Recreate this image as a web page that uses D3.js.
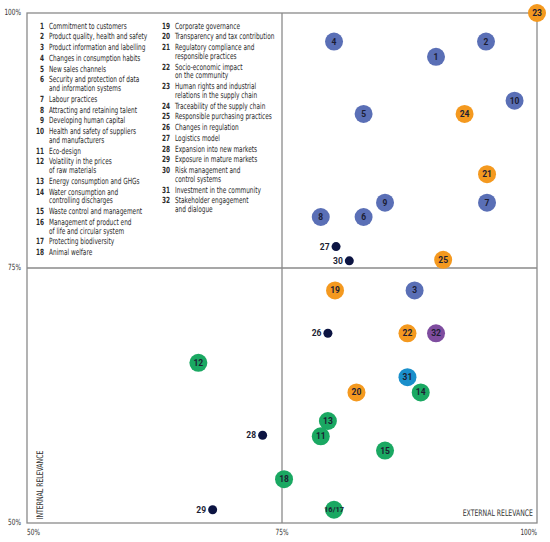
<!DOCTYPE html>
<html>
<head>
<meta charset="utf-8">
<script src="https://cdn.jsdelivr.net/npm/d3@7"></script>
<style>
  body { margin: 0; background: #fff; }
  svg { display: block; }
</style>
</head>
<body>
<div id="chart"></div>
<script>
// legend entries (| marks a line break)
const legendNames = [
  'Commitment to customers', 'Product quality, health and safety', 'Product information and labelling',
  'Changes in consumption habits', 'New sales channels', 'Security and protection of data|and information systems',
  'Labour practices', 'Attracting and retaining talent', 'Developing human capital',
  'Health and safety of suppliers|and manufacturers', 'Eco-design', 'Volatility in the prices|of raw materials',
  'Energy consumption and GHGs', 'Water consumption and|controlling discharges', 'Waste control and management',
  'Management of product end|of life and circular system', 'Protecting biodiversity', 'Animal welfare',
  'Corporate governance', 'Transparency and tax contribution', 'Regulatory compliance and|responsible practices',
  'Socio-economic impact|on the community', 'Human rights and industrial|relations in the supply chain',
  'Traceability of the supply chain', 'Responsible purchasing practices', 'Changes in regulation',
  'Logistics model', 'Expansion into new markets', 'Exposure in mature markets',
  'Risk management and|control systems', 'Investment in the community', 'Stakeholder engagement|and dialogue'
];

// plotted points
const pointLabels = ['1', '2', '3', '4', '5', '6', '7', '8', '9', '10',
  '11', '12', '13', '14', '15', '16/17', '18',
  '19', '20', '21', '22', '23', '24', '25',
  '26', '27', '28', '29', '30', '31', '32'];
const externalRel = [90.1, 95.0, 88.0, 80.1, 83.0, 83.0, 95.1, 78.8, 85.1, 97.8,
  78.8, 66.8, 79.5, 88.6, 85.1, 80.1, 75.2,
  80.2, 82.3, 95.1, 87.3, 100, 92.9, 90.8,
  79.5, 80.3, 73.1, 68.2, 81.6, 87.3, 90.1];
const internalRel = [95.7, 97.2, 72.8, 97.2, 90.1, 80.0, 81.4, 80.0, 81.4, 91.4,
  58.5, 65.7, 60.0, 62.8, 57.1, 51.3, 54.3,
  72.8, 62.8, 84.2, 68.6, 100, 90.1, 75.8,
  68.6, 77.1, 58.6, 51.3, 75.7, 64.3, 68.6];
const pointGroups = ['social', 'social', 'social', 'social', 'social', 'social', 'social', 'social', 'social', 'social',
  'env', 'env', 'env', 'env', 'env', 'env', 'env',
  'gov', 'gov', 'gov', 'gov', 'gov', 'gov', 'gov',
  'risk', 'risk', 'risk', 'risk', 'risk', 'community', 'stake'];

const axisTicks = [50, 75, 100];

var width = 550, height = 542;
var color = d3.scaleOrdinal()
  .domain(['social', 'env', 'gov', 'risk', 'community', 'stake'])
  .range(['#5a6fb6', '#1aa862', '#f4991f', '#0c1442', '#1a8fcb', '#7e4c9f']);

var x = d3.scaleLinear().domain([50, 100]).range([27, 537]);
var y = d3.scaleLinear().domain([50, 100]).range([523, 13]);

var svg = d3.select('#chart')
  .append('svg')
  .attr('width', width)
  .attr('height', height);

// no narrow font installed, so squeeze the text horizontally
var narrow = 'DejaVu Sans Condensed, sans-serif';
var squeeze = 0.76;

function narrowText(parent, tx, ty, str, extra) {
  return parent.append('text')
    .attr('transform', 'translate(' + tx + ',' + ty + ') ' + (extra || '') + ' scale(' + squeeze + ',1)')
    .text(str);
}

// frame and quadrant lines
var grid = svg.append('g')
  .attr('stroke', '#8a8a8a')
  .attr('stroke-width', 1.3)
  .attr('fill', 'none');

grid.append('rect')
  .attr('x', x(50))
  .attr('y', y(100))
  .attr('width', x(100) - x(50))
  .attr('height', y(50) - y(100));

grid.append('line')
  .attr('x1', x(75)).attr('x2', x(75))
  .attr('y1', y(100)).attr('y2', y(50));

grid.append('line')
  .attr('x1', x(50)).attr('x2', x(100))
  .attr('y1', y(75)).attr('y2', y(75));

// tick labels
var ticks = svg.append('g')
  .attr('font-family', narrow)
  .attr('font-size', 8.5)
  .attr('fill', '#333');

axisTicks.forEach(function(d) {
  narrowText(ticks, x(d), 535, d + '%')
    .attr('text-anchor', d === 50 ? 'start' : d === 100 ? 'end' : 'middle');
  narrowText(ticks, 21, y(d) + 2, d + '%')
    .attr('text-anchor', 'end');
});

// axis titles
var titles = svg.append('g')
  .attr('font-family', narrow)
  .attr('font-size', 9)
  .attr('fill', '#333');

narrowText(titles, 43, 485, 'INTERNAL RELEVANCE', 'rotate(-90)')
  .attr('text-anchor', 'middle');
narrowText(titles, 533, 516, 'EXTERNAL RELEVANCE')
  .attr('text-anchor', 'end');

// legend, two columns
function drawLegend(first, last, numX, startY) {
  var cy = startY;
  var lh = 8.75;
  var g = svg.append('g')
    .attr('font-family', narrow)
    .attr('font-size', 8.5)
    .attr('fill', '#2b2b2b');
  for (var i = first; i <= last; i++) {
    var lines = legendNames[i].split('|');
    narrowText(g, numX, cy, i + 1)
      .attr('text-anchor', 'end')
      .attr('font-weight', 'bold');
    lines.forEach(function(line, j) {
      narrowText(g, numX + 5, cy + j * lh, line);
    });
    cy += lines.length * lh + 2;
  }
}
drawLegend(0, 17, 44, 28.5);
drawLegend(18, 31, 170, 28.5);

// points
var points = pointLabels.map(function(label, i) {
  return { label: label, ext: externalRel[i], int: internalRel[i], group: pointGroups[i] };
});

var node = svg.selectAll('.node')
  .data(points)
  .enter()
  .append('g')
  .attr('class', 'node')
  .attr('transform', function(d) {
    return 'translate(' + x(d.ext) + ',' + y(d.int) + ')';
  });

node.append('circle')
  .attr('r', function(d) { return d.group === 'risk' ? 4.5 : 9; })
  .style('fill', function(d) { return color(d.group); });

node.append('text')
  .attr('x', function(d) { return d.group === 'risk' ? -6.5 : 0; })
  .attr('dy', '0.35em')
  .style('text-anchor', function(d) { return d.group === 'risk' ? 'end' : 'middle'; })
  .attr('font-family', 'Roboto, sans-serif')
  .attr('font-weight', 'bold')
  .attr('font-size', function(d) { return d.label.length > 3 ? 7.5 : 8.5; })
  .attr('fill', '#1c1d33')
  .text(function(d) { return d.label; });
</script>
</body>
</html>
